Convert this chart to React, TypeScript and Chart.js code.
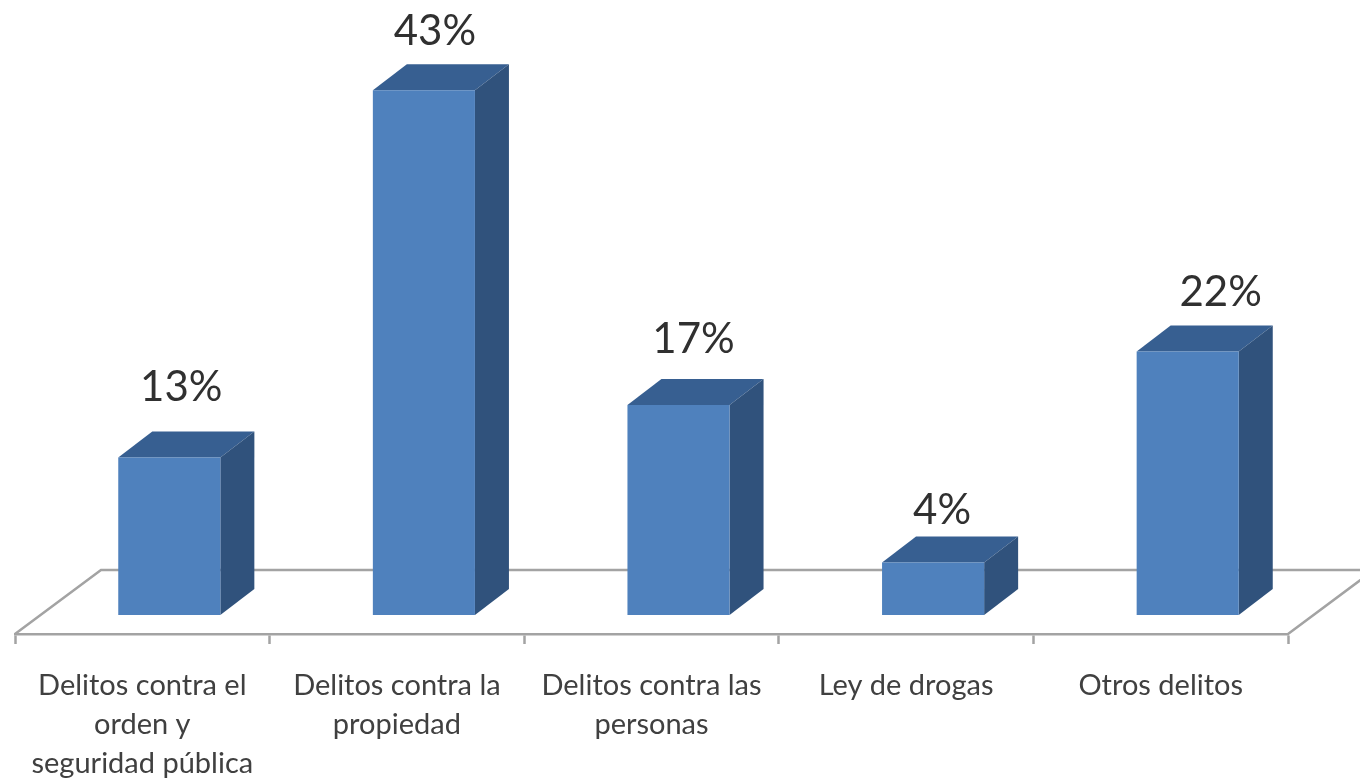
import React, { useEffect, useRef } from "react";
import { Chart, registerables } from "chart.js";

Chart.register(...registerables);

const categories = [
  ["Delitos contra el", "orden y", "seguridad pública"],
  ["Delitos contra la", "propiedad"],
  ["Delitos contra las", "personas"],
  ["Ley de drogas"],
  ["Otros delitos"],
];
const values = [12.9, 43.0, 17.2, 4.3, 21.6];
const valueLabels = ["13%", "43%", "17%", "4%", "22%"];

const DEPTH_X = 34;
const DEPTH_Y = 26;
const BAR_SHIFT = 27;
const FLOOR_X = 86;
const FLOOR_Y = 64;
const labelDx = [12, 11, 15, 9, 33];
const labelGap = [70, 59, 66, 52, 59];

const threeD = {
  id: "threeD",
  beforeDatasetsDraw(chart: any) {
    const { ctx, chartArea } = chart;
    const { left, right, bottom } = chartArea;
    ctx.save();
    ctx.strokeStyle = "#a3a3a3";
    ctx.lineWidth = 2.5;
    ctx.beginPath();
    ctx.moveTo(left, bottom);
    ctx.lineTo(left + FLOOR_X, bottom - FLOOR_Y);
    ctx.lineTo(right + FLOOR_X, bottom - FLOOR_Y);
    ctx.lineTo(right, bottom);
    ctx.stroke();
    ctx.restore();
  },
  beforeDatasetDraw(chart: any) {
    const { ctx } = chart;
    const meta = chart.getDatasetMeta(0);
    ctx.save();
    ctx.translate(BAR_SHIFT, 0);
    meta.data.forEach((bar: any) => {
      const l = bar.x - bar.width / 2;
      const r = bar.x + bar.width / 2;
      const t = bar.y;
      const b = bar.base;
      ctx.fillStyle = "#375f91";
      ctx.beginPath();
      ctx.moveTo(l, t);
      ctx.lineTo(l + DEPTH_X, t - DEPTH_Y);
      ctx.lineTo(r + DEPTH_X, t - DEPTH_Y);
      ctx.lineTo(r, t);
      ctx.closePath();
      ctx.fill();
      ctx.fillStyle = "#30527c";
      ctx.beginPath();
      ctx.moveTo(r, t);
      ctx.lineTo(r + DEPTH_X, t - DEPTH_Y);
      ctx.lineTo(r + DEPTH_X, b - DEPTH_Y);
      ctx.lineTo(r, b);
      ctx.closePath();
      ctx.fill();
    });
  },
  afterDatasetDraw(chart: any) {
    chart.ctx.restore();
  },
  afterDatasetsDraw(chart: any) {
    const { ctx } = chart;
    const meta = chart.getDatasetMeta(0);
    ctx.save();
    ctx.fillStyle = "#303030";
    ctx.font = '42px "Lato"';
    ctx.textAlign = "center";
    ctx.textBaseline = "middle";
    meta.data.forEach((bar: any, i: number) => {
      ctx.fillText(valueLabels[i], bar.x + BAR_SHIFT + labelDx[i], bar.y - labelGap[i]);
    });
    ctx.restore();
  },
};

export default function App() {
  const ref = useRef<HTMLCanvasElement>(null);
  useEffect(() => {
    const chart = new Chart(ref.current as HTMLCanvasElement, {
      type: "bar",
      data: {
        labels: categories as any,
        datasets: [
          {
            data: values,
            backgroundColor: "#4f81bd",
            barPercentage: 0.401,
            categoryPercentage: 1,
          },
        ],
      },
      plugins: [threeD],
      options: {
        animation: false,
        responsive: false,
        maintainAspectRatio: false,
        layout: { padding: { left: 15, right: 72, top: 0, bottom: 0 } },
        plugins: { legend: { display: false }, tooltip: { enabled: false } },
        scales: {
          y: { display: false, min: -1.56, max: 50.4 },
          x: {
            offset: true,
            afterFit(scale: any) {
              scale.height = 146;
            },
            border: { display: true, color: "#a3a3a3", width: 2.5 },
            grid: {
              display: true,
              offset: true,
              drawOnChartArea: false,
              drawTicks: true,
              tickLength: 10,
              tickWidth: 2.5,
              tickColor: "#a3a3a3",
            },
            ticks: {
              autoSkip: false,
              maxRotation: 0,
              minRotation: 0,
              padding: 22,
              color: "#404040",
              font: { family: "Lato", size: 29, lineHeight: 1.345 },
            },
          },
        },
      } as any,
    });
    return () => chart.destroy();
  }, []);
  return (
    <div style={{ position: "fixed", left: 0, top: 0, width: 1360, height: 780, background: "#fff" }}>
      <canvas ref={ref} width={1360} height={780} style={{ display: "block", filter: "blur(0.6px)" }} />
    </div>
  );
}
